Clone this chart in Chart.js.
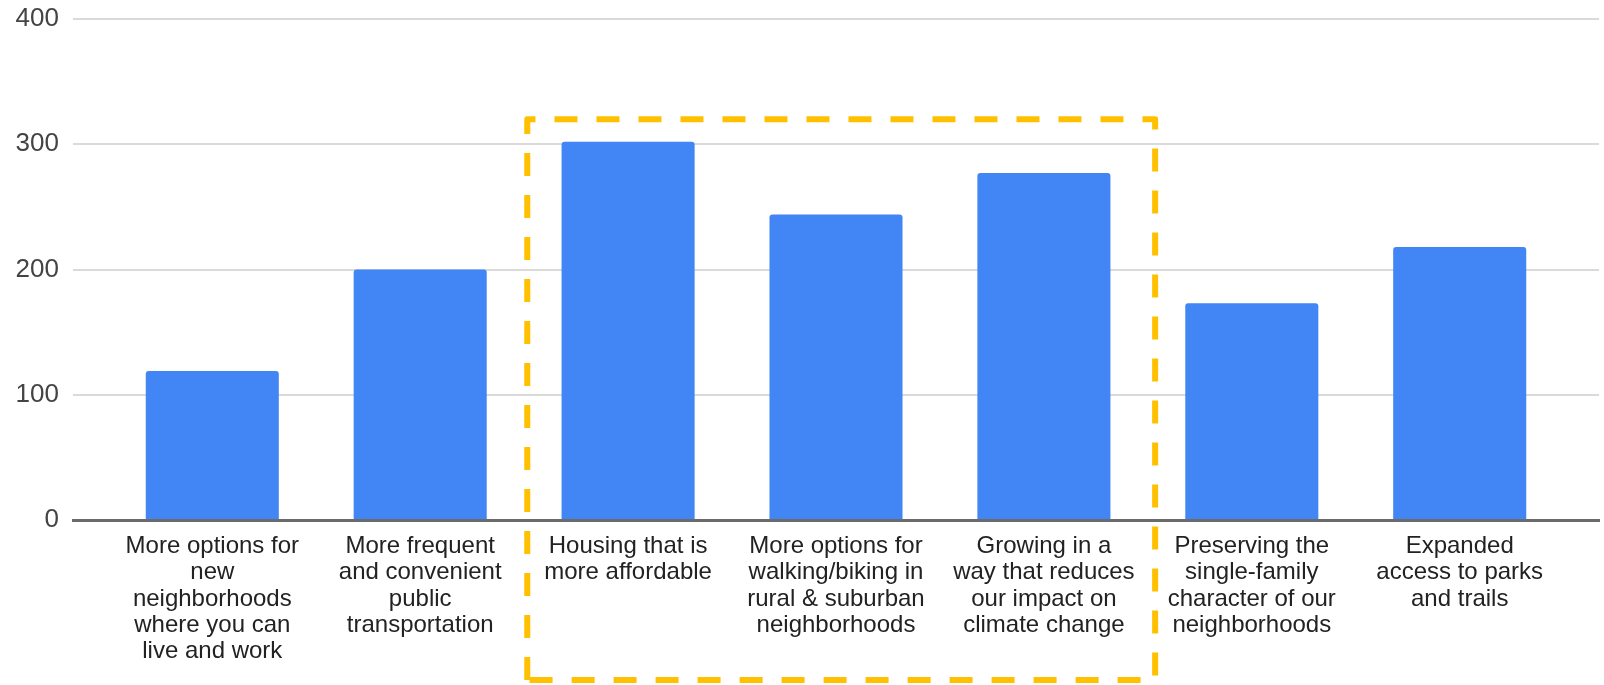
<!DOCTYPE html>
<html>
<head>
<meta charset="utf-8">
<script src="https://cdn.jsdelivr.net/npm/chart.js@4.4.1/dist/chart.umd.min.js"></script>
<style>
  html, body { margin: 0; padding: 0; background: #ffffff; }
  #wrap { position: relative; width: 1604px; height: 685px; }
</style>
</head>
<body>
<div id="wrap"><canvas id="c"></canvas></div>
<script>
// ---- data ----
const categories = [
  ["More options for", "new", "neighborhoods", "where you can", "live and work"],
  ["More frequent", "and convenient", "public", "transportation"],
  ["Housing that is", "more affordable"],
  ["More options for", "walking/biking in", "rural & suburban", "neighborhoods"],
  ["Growing in a", "way that reduces", "our impact on", "climate change"],
  ["Preserving the", "single-family", "character of our", "neighborhoods"],
  ["Expanded", "access to parks", "and trails"]
];
const values = [119, 200, 302, 244, 277, 173, 218];
const yTicks = [0, 100, 200, 300, 400];
// highlighted group (category indices) and its top value
const highlightFrom = 2;
const highlightTo = 4;
const highlightTopValue = 320;

const FONT = "'Liberation Sans', Arial, Helvetica, sans-serif";

const highlightBox = {
  id: 'highlightBox',
  afterDraw(chart) {
    const x = chart.scales.x, y = chart.scales.y;
    const ctx = chart.ctx;
    const left = x.getPixelForValue(highlightFrom - 0.485);
    const right = x.getPixelForValue(highlightTo + 0.535);
    const top = y.getPixelForValue(highlightTopValue);
    const bottom = chart.height - 5;
    ctx.save();
    ctx.strokeStyle = '#FFC000';
    ctx.lineWidth = 6;
    ctx.lineJoin = 'round';
    ctx.setLineDash([23, 19]);
    ctx.beginPath();
    ctx.moveTo(left, bottom);
    ctx.lineTo(left, top);
    ctx.lineTo(right, top);
    ctx.lineTo(right, bottom);
    ctx.lineTo(left, bottom);
    ctx.stroke();
    ctx.restore();
  }
};

new Chart(document.getElementById('c'), {
  type: 'bar',
  data: {
    datasets: [{
      data: values.map((v, i) => ({ x: i, y: v })),
      backgroundColor: '#4285F4',
      borderRadius: { topLeft: 3, topRight: 3, bottomLeft: 0, bottomRight: 0 },
      borderSkipped: 'start',
      categoryPercentage: 1,
      barPercentage: 0.64
    }]
  },
  options: {
    responsive: true,
    maintainAspectRatio: false,
    animation: false,
    layout: { padding: { top: 19, right: 5, bottom: 0, left: 0 } },
    plugins: { legend: { display: false }, tooltip: { enabled: false } },
    scales: {
      x: {
        type: 'linear',
        offset: false,
        bounds: 'ticks',
        min: -0.67,
        max: categories.length - 1 + 0.67,
        z: 1,
        afterBuildTicks(s) { s.ticks = categories.map((_, i) => ({ value: i })); },
        afterFit(s) { s.height = 165; s.paddingLeft = 0; s.paddingRight = 0; },
        ticks: {
          autoSkip: false,
          maxRotation: 0,
          minRotation: 0,
          padding: 13,
          color: '#222222',
          font: { family: FONT, size: 24, lineHeight: 1.1 },
          callback: (v) => categories[v] || ''
        },
        grid: { display: false, drawTicks: false },
        border: { display: true, color: '#6b6b6b', width: 3 }
      },
      y: {
        min: 0,
        max: 400,
        afterBuildTicks(s) { s.ticks = yTicks.map(v => ({ value: v })); },
        afterFit(s) { s.width = 73; s.paddingTop = 0; s.paddingBottom = 0; },
        ticks: {
          padding: 14,
          color: '#444444',
          font: { family: FONT, size: 26 }
        },
        grid: { color: '#dadada', lineWidth: 2, drawTicks: false },
        border: { display: false }
      }
    }
  },
  plugins: [highlightBox]
});
</script>
</body>
</html>
